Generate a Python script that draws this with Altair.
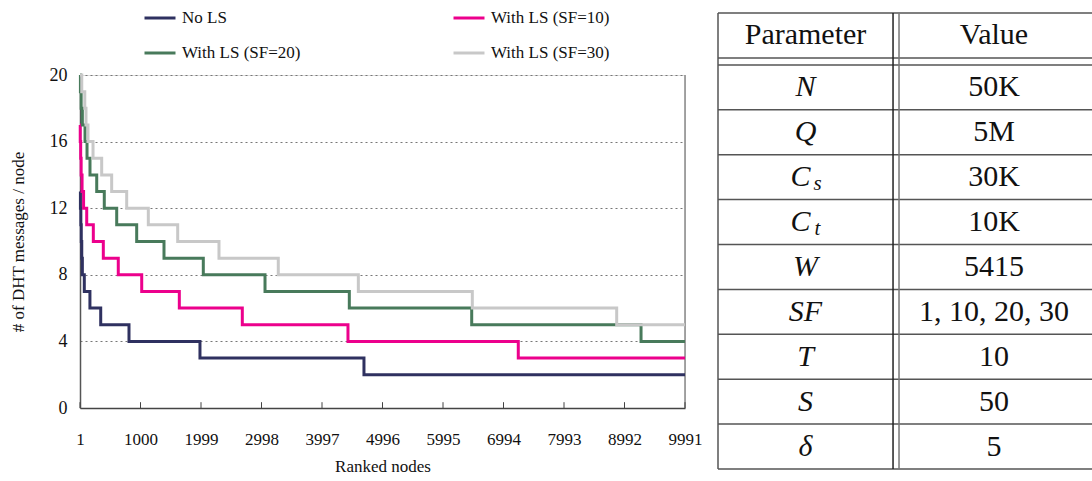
import altair as alt
import pandas as pd

# ---- step curves: node rank where each level starts, and the level ----
no_ls_x = [1, 8, 15, 22, 30, 40, 72, 165, 343, 810, 1982, 4690, 9991]
no_ls_y = [13, 12, 11, 10, 9, 8, 7, 6, 5, 4, 3, 2, 2]

sf10_x = [1, 5, 12, 20, 35, 60, 112, 221, 386, 633, 1020, 1641, 2681, 4426, 7238, 9991]
sf10_y = [17, 16, 15, 14, 13, 12, 11, 10, 9, 8, 7, 6, 5, 4, 3, 3]

sf20_x = [1, 8, 20, 40, 84, 117, 166, 277, 402, 607, 937, 1388, 2037, 3056, 4448, 6469, 9265, 9991]
sf20_y = [20, 19, 18, 17, 16, 15, 14, 13, 12, 11, 10, 9, 8, 7, 6, 5, 4, 4]

sf30_x = [1, 30, 80, 100, 133, 216, 359, 524, 772, 1129, 1614, 2296, 3275, 4597, 6479, 8863, 9991]
sf30_y = [20, 19, 18, 17, 16, 15, 14, 13, 12, 11, 10, 9, 8, 7, 6, 5, 5]

series_names = ["No LS", "With LS (SF=10)", "With LS (SF=20)", "With LS (SF=30)"]
series_colors = ["#2F3160", "#EC008C", "#487A5B", "#C8C8C8"]

x_ticks = [1, 1000, 1999, 2998, 3997, 4996, 5995, 6994, 7993, 8992, 9991]
y_ticks = [0, 4, 8, 12, 16, 20]

# ---- parameter table ----
param_names = ["N", "Q", "C", "C", "W", "SF", "T", "S", "δ"]
param_subs = ["", "", "s", "t", "", "", "", "", ""]
param_values = ["50K", "5M", "30K", "10K", "5415", "1, 10, 20, 30", "10", "50", "5"]
header = ["Parameter", "Value"]

SERIF = "Liberation Serif"
TABLE_FONT = "Liberation Serif"
TABLE_SIZE = 30

rows = []
for name, xs, ys in zip(series_names, [no_ls_x, sf10_x, sf20_x, sf30_x],
                        [no_ls_y, sf10_y, sf20_y, sf30_y]):
    for i, (a, b) in enumerate(zip(xs, ys)):
        rows.append({"series": name, "node": a, "msgs": b, "order": i})
lines_df = pd.DataFrame(rows)

x_scale = alt.Scale(domain=[1, 9991], nice=False, zero=False)
y_scale = alt.Scale(domain=[0, 20], nice=False)

lines = alt.Chart(lines_df).mark_line(interpolate="step-after", strokeWidth=3).encode(
    x=alt.X("node:Q", scale=x_scale,
            axis=alt.Axis(values=x_ticks, format="d", title="Ranked nodes", grid=False,
                          ticks=False, labelFont=SERIF, labelFontSize=17, labelColor="#111",
                          labelPadding=23, titleFont=SERIF, titleFontSize=17,
                          titleFontWeight="normal", titleColor="#111", titlePadding=11,
                          domainColor="#444", domainWidth=1.5, labelFlush=False)),
    y=alt.Y("msgs:Q", scale=y_scale,
            axis=alt.Axis(values=y_ticks, title="# of DHT messages / node", ticks=False,
                          grid=True, gridColor="#777", gridDash=[2, 3], gridWidth=1,
                          labelFont=SERIF, labelFontSize=18, labelColor="#111",
                          labelPadding=13, titleFont=SERIF, titleFontSize=17,
                          titleFontWeight="normal", titleColor="#111", titlePadding=22,
                          domainColor="#555", domainWidth=1.5)),
    color=alt.Color("series:N",
                    scale=alt.Scale(domain=series_names, range=series_colors),
                    legend=alt.Legend(title=None, orient="none", legendX=63, legendY=-74,
                                      direction="horizontal", columns=2,
                                      columnPadding=146, rowPadding=10,
                                      symbolType="stroke", symbolSize=961,
                                      symbolStrokeWidth=3, labelFont=SERIF,
                                      labelFontSize=17, labelColor="#111",
                                      labelOffset=5, padding=0)),
    order="order:Q",
)

tick_df = pd.DataFrame({"node": x_ticks, "lo": 0.0, "hi": 0.35})
inner_ticks = alt.Chart(tick_df).mark_rule(color="#444", strokeWidth=1).encode(
    x=alt.X("node:Q", scale=x_scale), y=alt.Y("lo:Q", scale=y_scale), y2="hi:Q")

border_df = pd.DataFrame({"node": [9991], "lo": [0], "hi": [20]})
right_border = alt.Chart(border_df).mark_rule(color="#888", strokeWidth=1.5).encode(
    x=alt.X("node:Q", scale=x_scale), y=alt.Y("lo:Q", scale=y_scale), y2="hi:Q")

plot = alt.layer(right_border, lines, inner_ticks)

# ---- table geometry (column fractions, row units) ----
COL_SEP1, COL_SEP2 = 0.468, 0.484
PARAM_CX, VALUE_CX = 0.234, 0.738
BODY_TOP = 1.156
n_rows = len(param_names)
TABLE_BOTTOM = BODY_TOP + n_rows

tx = alt.Scale(domain=[0, 1], range=[638, 1012])
ty = alt.Scale(domain=[0, TABLE_BOTTOM], range=[-62, 394])

h_lines = pd.DataFrame({"y": [0, 1] + [BODY_TOP + k for k in range(n_rows + 1)],
                        "x0": 0.0, "x1": 1.0})
v_lines = pd.DataFrame({"x": [0.0, COL_SEP1, COL_SEP2], "y0": 0.0, "y1": TABLE_BOTTOM,
                        "c": ["#555", "#222", "#777"]})

hrule = alt.Chart(h_lines).mark_rule(color="#555", strokeWidth=1.5).encode(
    x=alt.X("x0:Q", scale=tx, axis=None), x2="x1:Q",
    y=alt.Y("y:Q", scale=ty, axis=None))
vrule = alt.Chart(v_lines).mark_rule(strokeWidth=1.5).encode(
    x=alt.X("x:Q", scale=tx, axis=None),
    y=alt.Y("y0:Q", scale=ty, axis=None), y2="y1:Q",
    color=alt.Color("c:N", scale=None, legend=None))

head_df = pd.DataFrame({"text": header, "x": [PARAM_CX, VALUE_CX], "y": [0.5, 0.5]})
head_txt = alt.Chart(head_df).mark_text(font=TABLE_FONT, fontSize=TABLE_SIZE, color="#111",
                                        baseline="middle").encode(
    x=alt.X("x:Q", scale=tx, axis=None), y=alt.Y("y:Q", scale=ty, axis=None), text="text:N")

body_df = pd.DataFrame({
    "name": param_names, "sub": param_subs, "value": param_values,
    "y": [BODY_TOP + k + 0.5 for k in range(n_rows)],
    "px": PARAM_CX, "vx": VALUE_CX,
})
sym_plain = alt.Chart(body_df).transform_filter("datum.sub == ''").mark_text(
    font=TABLE_FONT, fontSize=TABLE_SIZE, fontStyle="italic", color="#111",
    baseline="middle").encode(
    x=alt.X("px:Q", scale=tx, axis=None), y=alt.Y("y:Q", scale=ty, axis=None), text="name:N")
sym_base = alt.Chart(body_df).transform_filter("datum.sub != ''").mark_text(
    font=TABLE_FONT, fontSize=TABLE_SIZE, fontStyle="italic", color="#111",
    baseline="middle", dx=-5).encode(
    x=alt.X("px:Q", scale=tx, axis=None), y=alt.Y("y:Q", scale=ty, axis=None), text="name:N")
sym_sub = alt.Chart(body_df).transform_filter("datum.sub != ''").mark_text(
    font=TABLE_FONT, fontSize=21, fontStyle="italic", color="#111", baseline="middle",
    dx=12, dy=7).encode(
    x=alt.X("px:Q", scale=tx, axis=None), y=alt.Y("y:Q", scale=ty, axis=None), text="sub:N")
val_txt = alt.Chart(body_df).mark_text(font=TABLE_FONT, fontSize=TABLE_SIZE, color="#111",
                                       baseline="middle").encode(
    x=alt.X("vx:Q", scale=tx, axis=None), y=alt.Y("y:Q", scale=ty, axis=None), text="value:N")

table = alt.layer(hrule, vrule, head_txt, sym_plain, sym_base, sym_sub, val_txt)

chart = alt.layer(plot, table).resolve_scale(
    x="independent", y="independent", color="independent"
).properties(
    width=605, height=333,
    autosize=alt.AutoSizeParams(type="none"),
    padding={"left": 80, "top": 75, "right": 407, "bottom": 73},
).configure_view(stroke=None).configure(background="white")

chart.save("out.html", embed_options={"renderer": "svg", "actions": False})
